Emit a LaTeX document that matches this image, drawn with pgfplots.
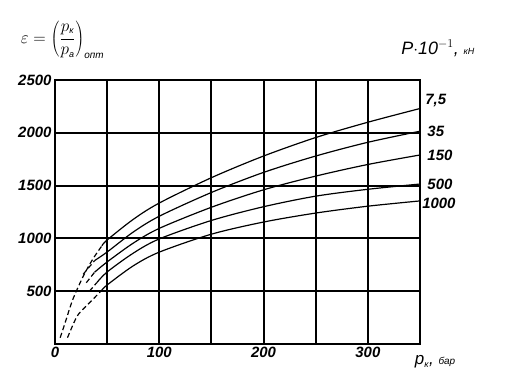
\documentclass[border=0pt]{standalone}
\usepackage{fontspec}
\setmainfont{Liberation Sans}
\usepackage{pgfplots}
\pgfplotsset{compat=1.18}
\begin{document}
\begin{tikzpicture}
\begin{axis}[
 scale only axis, width=365bp, height=264bp,
 xmin=0, xmax=350, ymin=0, ymax=2500,
 xtick={0,50,...,300}, xticklabels={0,,100,,200,,300},
 ytick={500,1000,1500,2000,2500},
 yticklabels={500,1000,1500,2000,2500},
 grid=major, grid style={black, line width=2pt}, major grid style={black, line width=2pt},
 axis line style={black, line width=2.2pt},
 major tick length=0pt,
 tick label style={font=\fontsize{15}{18}\selectfont\bfseries\itshape},
 /pgf/number format/assume math mode=true,
 clip=false,
 sol/.style={black, solid, line width=1.2pt, smooth, no marks},
 dsh/.style={black, line width=1.2pt, smooth, no marks, dash pattern=on 5pt off 3pt},
]
% 7,5
\addplot[dsh] coordinates {(5,60)(10,210)(17,420)(27,640)(36,800)(45,930)};
\addplot[sol] coordinates {(45,930)(50,985)(75,1180)(100,1335)(150,1575)(200,1780)(250,1955)(300,2100)(350,2230)};
% 35
\addplot[dsh] coordinates {(27,660)(38,790)};
\addplot[sol] coordinates {(38,790)(50,871)(75,1060)(100,1210)(150,1435)(200,1625)(250,1780)(300,1910)(350,2015)};
% 150
\addplot[dsh] coordinates {(30,580)(38,680)};
\addplot[sol] coordinates {(38,680)(50,777)(75,955)(100,1095)(150,1295)(200,1460)(250,1590)(300,1700)(350,1790)};
% 500
\addplot[dsh] coordinates {(33,500)(40,580)};
\addplot[sol] coordinates {(40,580)(50,682)(75,860)(100,995)(150,1170)(200,1300)(250,1400)(300,1465)(350,1515)};
% 1000
\addplot[dsh] coordinates {(12,60)(21,260)(29,350)(36,420)(45,510)};
\addplot[sol] coordinates {(45,510)(50,559)(75,740)(100,870)(150,1040)(200,1155)(250,1240)(300,1305)(350,1355)};

\begin{scope}[every node/.style={anchor=west, inner sep=0pt, font=\fontsize{15}{18}\selectfont\bfseries\itshape}]
\node at (axis cs:355,2310) {7,5};
\node at (axis cs:357,2015) {35};
\node at (axis cs:357,1790) {150};
\node at (axis cs:357,1510) {500};
\node at (axis cs:352,1335) {1000};
\end{scope}
\node[anchor=west, inner sep=0pt] at (axis cs:-33,2880)
  {\fontsize{18}{22}\selectfont $\displaystyle\varepsilon=\left(\frac{p_{\mbox{\itshape\small к}}}{p_{\mbox{\itshape\small а}}}\right)_{\mbox{\itshape\normalsize опт}}$};
\node[anchor=west, inner sep=0pt] at (axis cs:332,2800)
  {\fontsize{18}{20}\selectfont\itshape P$\cdot$10$^{-1}$, {\small кН}};
\node[anchor=west, inner sep=0pt] at (axis cs:345,-170)
  {\fontsize{17}{19}\selectfont\itshape p$_{\mbox{\small\itshape к}}$, {\normalsize бар}};
\end{axis}
\path (current axis.south west) ++(-55bp,-41bp) rectangle ++(513bp,385bp);
\end{tikzpicture}
\end{document}
